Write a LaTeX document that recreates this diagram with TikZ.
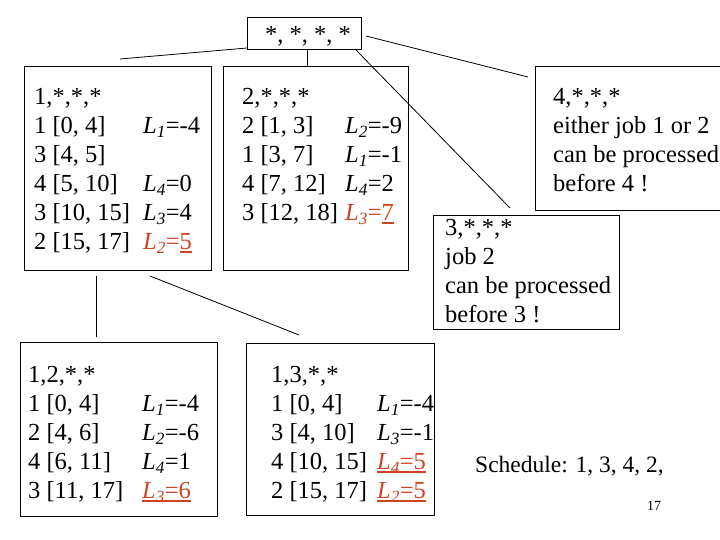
\documentclass[tikz,border=0pt]{standalone}
\usepackage{fontspec}
\setmainfont{Liberation Serif}
\definecolor{ored}{RGB}{204,68,34}
\newcommand\Lx[2]{\textit{L}\textsubscript{\textit{#1}}#2}
\newcommand\thul[1]{\setbox0\hbox{#1}\rlap{\rule[-3.5pt]{\wd0}{1.6pt}}\box0}
\begin{document}
\begin{tikzpicture}[x=1pt,y=-1pt,
  box/.style={draw, line width=0.9pt, anchor=north west, inner sep=0pt, outer sep=0pt},
  txt/.style={anchor=base west, inner sep=0pt, font=\fontsize{24.5}{29}\selectfont},
  conn/.style={line width=0.8pt},
  red/.style={txt, text=ored}]
\useasboundingbox (0,0) rectangle (720,540);
% boxes
\node[box, minimum width=114pt, minimum height=32pt] (root) at (247,17) {};
\node[box, minimum width=187pt, minimum height=204pt] (b1) at (24,66) {};
\node[box, minimum width=185pt, minimum height=204pt] (b2) at (223,66) {};
\node[box, minimum width=187pt, minimum height=144pt] (b4) at (535,66) {};
\node[box, minimum width=186pt, minimum height=114pt] (b3) at (433,215) {};
\node[box, minimum width=197pt, minimum height=174pt] (b12) at (20,342) {};
\node[box, minimum width=188pt, minimum height=172pt] (b13) at (246,343) {};
% connectors
\coordinate (c1) at (120,59);
\coordinate (c3) at (510,208);
\coordinate (c4a) at (366,36);
\coordinate (c4b) at (528,77);
\coordinate (c5a) at (96,276);
\coordinate (c5b) at (96,337);
\coordinate (c6a) at (150,276);
\coordinate (c6b) at (299,335);
\draw[conn] ([yshift=1pt]root.south west) -- (c1);
\draw[conn] ([xshift=3pt]root.south) -- ([xshift=3pt]root.south |- b2.north);
\draw[conn] ([xshift=-6pt]root.south east) -- (c3);
\draw[conn] (c4a) -- (c4b);
\draw[conn] (c5a) -- (c5b);
\draw[conn] (c6a) -- (c6b);
% root text
\node[txt] (rt) at (265,43) {*, *, *, *};
% box 1
\node[txt] (t1a) at (34,104.5) {1,*,*,*};
\node[txt] (t1b) at (34,133.5) {1 [0, 4]};
\node[txt] (t1bL) at (143,133.5) {\Lx{1}{=-4}};
\node[txt] (t1c) at (34,162.5) {3 [4, 5]};
\node[txt] (t1d) at (34,191.5) {4 [5, 10]};
\node[txt] (t1dL) at (143,191.5) {\Lx{4}{=0}};
\node[txt] (t1e) at (34,220.5) {3 [10, 15]};
\node[txt] (t1eL) at (143,220.5) {\Lx{3}{=4}};
\node[txt] (t1f) at (34,249.5) {2 [15, 17]};
\node[red] (t1fL) at (143,249.5) {\Lx{2}{=\thul{5}}};
% box 2
\node[txt] (t2a) at (242,104.5) {2,*,*,*};
\node[txt] (t2b) at (242,133.5) {2 [1, 3]};
\node[txt] (t2bL) at (345,133.5) {\Lx{2}{=-9}};
\node[txt] (t2c) at (242,162.5) {1 [3, 7]};
\node[txt] (t2cL) at (345,162.5) {\Lx{1}{=-1}};
\node[txt] (t2d) at (242,191.5) {4 [7, 12]};
\node[txt] (t2dL) at (345,191.5) {\Lx{4}{=2}};
\node[txt] (t2e) at (242,220.5) {3 [12, 18]};
\node[red] (t2eL) at (345,220.5) {\Lx{3}{=\thul{7}}};
% box 4
\node[txt] (t4a) at (553,104.5) {4,*,*,*};
\node[txt] (t4b) at (553,133.5) {either job 1 or 2};
\node[txt] (t4c) at (553,162.5) {can be processed};
\node[txt] (t4d) at (553,191.5) {before 4 !};
% box 3
\node[txt] (t3a) at (445,235.5) {3,*,*,*};
\node[txt] (t3b) at (445,264.5) {job 2};
\node[txt] (t3c) at (445,293.5) {can be processed};
\node[txt] (t3d) at (445,322.5) {before 3 !};
% box 1,2
\node[txt] (t12a) at (28,382.5) {1,2,*,*};
\node[txt] (t12b) at (28,411.5) {1 [0, 4]};
\node[txt] (t12bL) at (142,411.5) {\Lx{1}{=-4}};
\node[txt] (t12c) at (28,440.5) {2 [4, 6]};
\node[txt] (t12cL) at (142,440.5) {\Lx{2}{=-6}};
\node[txt] (t12d) at (28,469.5) {4 [6, 11]};
\node[txt] (t12dL) at (142,469.5) {\Lx{4}{=1}};
\node[txt] (t12e) at (28,498.5) {3 [11, 17]};
\node[red] (t12eL) at (142,498.5) {\thul{\Lx{3}{=6}}};
% box 1,3
\node[txt] (t13a) at (271,382.5) {1,3,*,*};
\node[txt] (t13b) at (271,411.5) {1 [0, 4]};
\node[txt] (t13bL) at (377,411.5) {\Lx{1}{=-4}};
\node[txt] (t13c) at (271,440.5) {3 [4, 10]};
\node[txt] (t13cL) at (377,440.5) {\Lx{3}{=-1}};
\node[txt] (t13d) at (271,469.5) {4 [10, 15]};
\node[red] (t13dL) at (377,469.5) {\thul{\Lx{4}{=5}}};
\node[txt] (t13e) at (271,498.5) {2 [15, 17]};
\node[red] (t13eL) at (377,498.5) {\thul{\Lx{2}{=5}}};
% schedule
\node[txt, font=\fontsize{23.5}{28}\selectfont] (sched) at (475,472) {Schedule: 1, 3, 4, 2,};
\node[anchor=base west, inner sep=0pt, font=\fontsize{14}{16}\selectfont] (pg) at (647,510) {17};
\end{tikzpicture}
\end{document}
